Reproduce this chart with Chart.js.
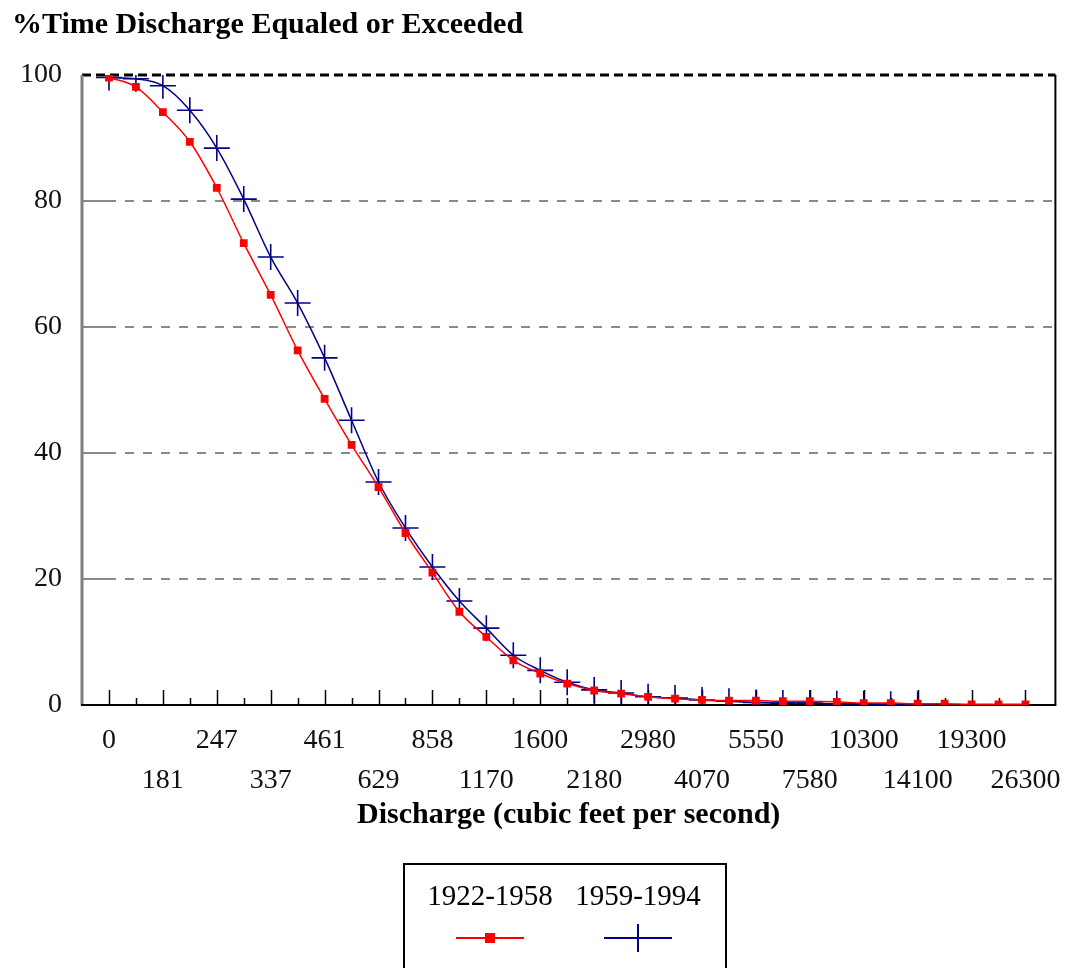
<!DOCTYPE html>
<html><head><meta charset="utf-8">
<script src="https://cdn.jsdelivr.net/npm/chart.js@4/dist/chart.umd.min.js"></script>
<style>html,body{margin:0;padding:0;background:#fff;}#wrap{width:1070px;height:968px;position:relative;overflow:hidden}</style>
</head><body><div id="wrap"><canvas id="c" width="1070" height="968"></canvas></div>
<script>
const chartTitle = '%Time Discharge Equaled or Exceeded';
const xAxisTitle = 'Discharge (cubic feet per second)';
// labelled discharge values (every second position on the axis)
const xTickLabels = ['0','181','247','337','461','629','858','1170','1600','2180','2980','4070','5550','7580','10300','14100','19300','26300'];
const yTicks = [0, 20, 40, 60, 80, 100];
const series1Label = '1922-1958';
const series1 = [99.6, 98.1, 94.1, 89.4, 82.1, 73.3, 65.1, 56.3, 48.6, 41.3, 34.6, 27.3, 21.0, 14.8, 10.8, 7.1, 5.0, 3.4, 2.3, 1.8, 1.3, 1.0, 0.8, 0.7, 0.7, 0.6, 0.6, 0.5, 0.3, 0.3, 0.2, 0.2, 0.1, 0.1, 0.1];
const series2Label = '1959-1994';
const series2 = [99.6, 99.4, 98.3, 94.4, 88.4, 80.3, 71.1, 63.8, 55.1, 45.2, 35.4, 28.1, 21.9, 16.5, 12.2, 7.9, 5.5, 3.6, 2.4, 1.9, 1.3, 1.1, 0.8, 0.6, 0.4, 0.3, 0.3, 0.2, 0.2, 0.1, 0.1, null, null, null, null];

const SERIF = "'Liberation Serif','Times New Roman',serif";
const RED = '#ff0000';
const BLUE = '#00008b';

const framePlugin = {
  id: 'frame',
  beforeDatasetsDraw(chart) {
    const {ctx, chartArea: a, scales: {x, y}} = chart;
    ctx.save();
    yTicks.forEach(v => {
      if (v === 0 || v === 100) return;
      const py = Math.round(y.getPixelForValue(v));
      ctx.strokeStyle = '#8a8a8a'; ctx.lineWidth = 2;
      ctx.setLineDash([]);
      ctx.beginPath(); ctx.moveTo(a.left, py); ctx.lineTo(a.left + 25, py); ctx.stroke();
      ctx.setLineDash([9, 9]);
      ctx.beginPath(); ctx.moveTo(a.left + 25, py); ctx.lineTo(a.right, py); ctx.stroke();
    });
    const pTop = y.getPixelForValue(100);
    ctx.strokeStyle = '#000'; ctx.lineWidth = 3; ctx.setLineDash([9, 5]);
    ctx.beginPath(); ctx.moveTo(a.left, pTop); ctx.lineTo(a.right, pTop); ctx.stroke();
    ctx.setLineDash([]);
    ctx.strokeStyle = '#808080'; ctx.lineWidth = 3;
    ctx.beginPath(); ctx.moveTo(a.left, a.top); ctx.lineTo(a.left, a.bottom); ctx.stroke();
    ctx.strokeStyle = '#000'; ctx.lineWidth = 2;
    ctx.beginPath(); ctx.moveTo(a.right, a.top); ctx.lineTo(a.right, a.bottom); ctx.lineTo(a.left - 1, a.bottom); ctx.stroke();
    ctx.lineWidth = 1.5;
    series1.forEach((_, i) => {
      const px = Math.round(x.getPixelForValue(i)) + 0.5;
      const len = i % 2 === 0 ? 15 : 7;
      ctx.beginPath(); ctx.moveTo(px, a.bottom); ctx.lineTo(px, a.bottom - len); ctx.stroke();
    });
    ctx.restore();
  },
  afterDraw(chart) {
    const {ctx, chartArea: a} = chart;
    ctx.save();
    ctx.fillStyle = '#000';
    ctx.font = 'bold 30px ' + SERIF;
    ctx.textBaseline = 'middle';
    ctx.textAlign = 'left';
    ctx.fillText(chartTitle, 12, 25);
    ctx.textAlign = 'center';
    ctx.fillText(xAxisTitle, (a.left + a.right) / 2, 815);
    const ds = chart.data.datasets;
    ctx.strokeStyle = '#000'; ctx.lineWidth = 2;
    ctx.strokeRect(404, 864, 322, 120);
    ctx.font = '29px ' + SERIF;
    const cols = [490, 638];
    ds.forEach((d, k) => {
      const cx = cols[k];
      ctx.fillStyle = '#000';
      ctx.fillText(d.label, cx, 897);
      ctx.strokeStyle = d.borderColor; ctx.lineWidth = 2;
      ctx.beginPath(); ctx.moveTo(cx - 34, 938); ctx.lineTo(cx + 34, 938); ctx.stroke();
      if (d.pointStyle === 'rect') {
        ctx.fillStyle = d.borderColor; ctx.fillRect(cx - 5, 933, 10, 10);
      } else {
        ctx.beginPath(); ctx.moveTo(cx, 924); ctx.lineTo(cx, 952); ctx.stroke();
      }
    });
    ctx.restore();
  }
};

new Chart(document.getElementById('c'), {
  type: 'line',
  data: {
    datasets: [
      {
        label: series1Label,
        data: series1.map((v, i) => ({x: i, y: v})),
        borderColor: RED, backgroundColor: RED,
        borderWidth: 1.5,
        pointStyle: 'rect', pointRadius: 5.5, pointBorderWidth: 0,
        pointBackgroundColor: RED,
        cubicInterpolationMode: 'monotone'
      },
      {
        label: series2Label,
        data: series2.map((v, i) => ({x: i, y: v})),
        borderColor: BLUE, backgroundColor: BLUE,
        borderWidth: 1.5,
        pointStyle: 'cross', pointRadius: 13, pointBorderWidth: 1.6,
        pointBorderColor: BLUE,
        cubicInterpolationMode: 'monotone',
        spanGaps: false
      }
    ]
  },
  options: {
    responsive: false,
    animation: false,
    devicePixelRatio: 1,
    layout: {padding: {left: 0, right: 13, top: 75, bottom: 123}},
    plugins: {legend: {display: false}, tooltip: {enabled: false}, title: {display: false}},
    scales: {
      x: {
        type: 'linear', min: -1, max: 35.11,
        afterBuildTicks: s => { s.ticks = series1.map((_, i) => ({value: i})); },
        afterFit: s => { s.height = 140; },
        grid: {display: false}, border: {display: false},
        ticks: {
          autoSkip: false, maxRotation: 0, minRotation: 0, padding: 8,
          color: '#111',
          font: {family: SERIF, size: 28, lineHeight: 40 / 28},
          callback: (v) => {
            if (v % 2 !== 0) return '';
            const k = v / 2;
            const t = xTickLabels[k];
            return k % 2 === 0 ? [t, ''] : ['', t];
          }
        }
      },
      y: {
        min: 0, max: 100,
        afterBuildTicks: s => { s.ticks = yTicks.map(v => ({value: v})); },
        afterFit: s => { s.width = 82; },
        grid: {display: false}, border: {display: false},
        ticks: {padding: 12, color: '#111', font: {family: SERIF, size: 28}}
      }
    }
  },
  plugins: [framePlugin]
});
</script></body></html>
